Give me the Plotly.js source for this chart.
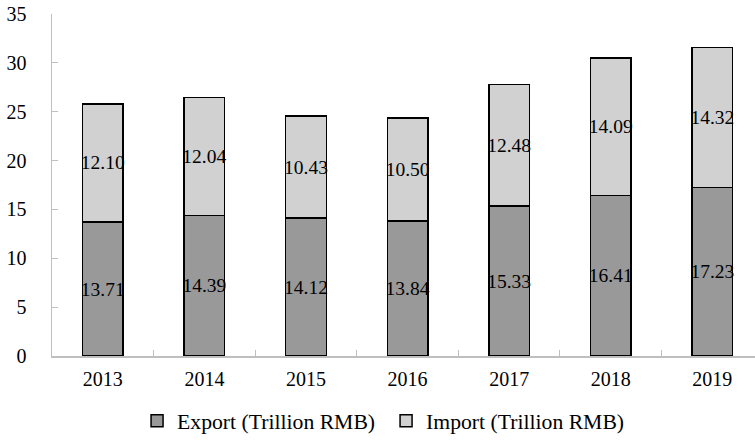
<!DOCTYPE html>
<html>
<head>
<meta charset="utf-8">
<script src="https://cdn.plot.ly/plotly-3.0.1.min.js"></script>
<style>html,body{margin:0;padding:0;background:#fff;}#chart{width:755px;height:440px;}</style>
</head>
<body>
<div id="chart"></div>
<script>
const years = ["2013", "2014", "2015", "2016", "2017", "2018", "2019"];
const exportVals = [13.71, 14.39, 14.12, 13.84, 15.33, 16.41, 17.23];
const importVals = [12.10, 12.04, 10.43, 10.50, 12.48, 14.09, 14.32];
const seriesNames = ["Export (Trillion RMB)", "Import (Trillion RMB)"];

const font = "Liberation Serif";
const common = {
  type: "bar",
  x: years,
  width: 0.4,
  textposition: "inside",
  insidetextanchor: "middle",
  constraintext: "none",
  textangle: 0,
  textfont: {family: font, size: 19.5, color: "#000"},
  hoverinfo: "skip"
};
const traces = [
  Object.assign({}, common, {
    name: seriesNames[0], y: exportVals,
    text: exportVals.map(v => v.toFixed(2)),
    marker: {color: "#999999", line: {color: "#000", width: 1.5}}
  }),
  Object.assign({}, common, {
    name: seriesNames[1], y: importVals,
    text: importVals.map(v => v.toFixed(2)),
    marker: {color: "#d0d1d0", line: {color: "#000", width: 1.5}}
  })
];
const layout = {
  width: 755, height: 440,
  barmode: "stack",
  margin: {l: 52, r: 0, t: 14, b: 84, autoexpand: false},
  paper_bgcolor: "#fff", plot_bgcolor: "#fff",
  font: {family: font, size: 20, color: "#000"},
  showlegend: true,
  legend: {orientation: "h", x: 0.121, xanchor: "left",
           yref: "container", y: 0.043, yanchor: "middle",
           entrywidth: 204, entrywidthmode: "pixels",
           font: {family: font, size: 21.7, color: "#000"}, traceorder: "normal"},
  xaxis: {
    type: "category", range: [-0.5, 6.42],
    showline: true, linecolor: "#bfbfbf", linewidth: 1.5,
    ticks: "inside", tickson: "boundaries", ticklen: 6, tickcolor: "#bfbfbf",
    showgrid: false, zeroline: false, ticklabelstandoff: 4,
    tickfont: {family: font, size: 20, color: "#000"}
  },
  yaxis: {
    range: [0, 35], dtick: 5, tick0: 0,
    showline: true, linecolor: "#bfbfbf", linewidth: 1.5,
    ticks: "inside", ticklen: 6, tickcolor: "#bfbfbf",
    showgrid: false, zeroline: false, ticklabelstandoff: 20,
    tickfont: {family: font, size: 20, color: "#000"}
  }
};
Plotly.newPlot("chart", traces, layout, {staticPlot: true, displayModeBar: false});
</script>
</body>
</html>
